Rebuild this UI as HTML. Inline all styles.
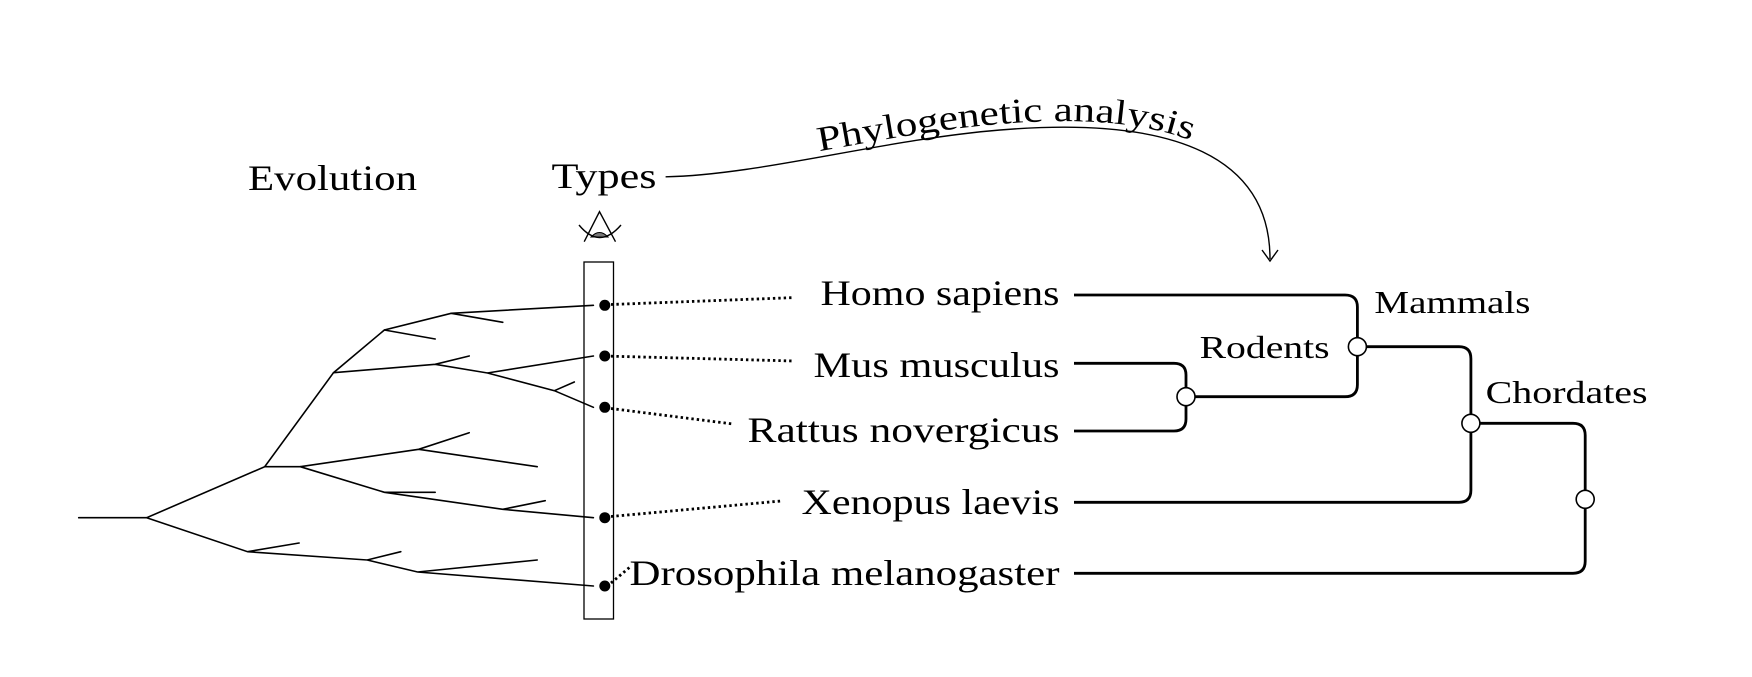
<!DOCTYPE html>
<html><head><meta charset="utf-8"><style>
html,body{margin:0;padding:0;background:#fff;}
svg{display:block;}
text{font-family:"Liberation Serif",serif;fill:#000;}
</style></head><body>
<svg width="1752" height="677" viewBox="0 0 1752 677" xmlns="http://www.w3.org/2000/svg">
<g stroke="#000" stroke-width="1.6" fill="none" stroke-linecap="round">
<path d="M78.7,517.7 L146.7,517.7 L264.7,466.7 L333.5,372.7 L384.4,330 L451.2,313.3 L593.4,305.3"/>
<path d="M451.2,313.3 L502.8,322.3 M384.4,330 L435.2,339"/>
<path d="M333.5,372.7 L435.2,364.3 L487.5,373 L593.4,356 M435.2,364.3 L469.2,356 M487.5,373 L554.4,390.7 L593.4,407.3 M554.4,390.7 L574.3,382"/>
<path d="M264.7,466.7 L300.3,466.7 L418.7,449.3 L469.2,432.7 M418.7,449.3 L537.2,466.7"/>
<path d="M300.3,466.7 L384.4,492.3 L435.2,492.3 M384.4,492.3 L502.8,509.3 L593.4,517.7 M502.8,509.3 L545.2,500.7"/>
<path d="M146.7,517.7 L247.6,551.7 L299.1,543 M247.6,551.7 L367.2,560 L400.8,551.7 M367.2,560 L417.6,572 L537.2,560 M417.6,572 L593.4,586"/>
</g>
<rect x="584" y="262" width="29.5" height="357" fill="none" stroke="#000" stroke-width="1.3"/>
<g fill="#000">
<circle cx="604.8" cy="305.3" r="5.5"/><circle cx="604.8" cy="356" r="5.5"/><circle cx="604.8" cy="407.3" r="5.5"/><circle cx="604.8" cy="517.7" r="5.5"/><circle cx="604.8" cy="586" r="5.5"/>
</g>
<g stroke="#000" stroke-width="2.8" stroke-dasharray="2.4 3" fill="none">
<path d="M611,304.5 L794,297.6"/><path d="M611,356.2 L794,361"/><path d="M611,408.5 L733,424"/><path d="M611,516.5 L781,501"/><path d="M611,583 L630,567"/>
</g>
<!-- eye -->
<path d="M591,237 Q599.5,228 608,237 Z" fill="#777" stroke="#000" stroke-width="1"/>
<path d="M584.2,241.7 L599.5,211.7 L615.5,241.7 M579,225 Q599.5,250 621,225" fill="none" stroke="#000" stroke-width="1.4"/>
<!-- labels -->
<text x="248" y="190" font-size="36" textLength="169" lengthAdjust="spacingAndGlyphs">Evolution</text>
<text x="551.5" y="188" font-size="36" textLength="105" lengthAdjust="spacingAndGlyphs">Types</text>
<path d="M665.6,176.8 C760,175 880,140 1000,130 C1180,115 1270,160 1270,259" fill="none" stroke="#000" stroke-width="1.4"/>
<path d="M1262,250 L1270,261 L1278,250" fill="none" stroke="#000" stroke-width="1.4"/>
<path id="tp" d="M665.6,170.8 C760,169 880,134 1000,124 C1180,109 1270,154 1270,253" fill="none"/>
<text font-size="35"><textPath href="#tp" startOffset="155" textLength="376" lengthAdjust="spacingAndGlyphs">Phylogenetic analysis</textPath></text>
<g font-size="36" text-anchor="end">
<text x="1059.5" y="305" textLength="239" lengthAdjust="spacingAndGlyphs">Homo sapiens</text>
<text x="1059.5" y="377" textLength="246" lengthAdjust="spacingAndGlyphs">Mus musculus</text>
<text x="1059.5" y="442" textLength="312" lengthAdjust="spacingAndGlyphs">Rattus novergicus</text>
<text x="1059.5" y="514" textLength="258" lengthAdjust="spacingAndGlyphs">Xenopus laevis</text>
<text x="1059.5" y="585" textLength="430" lengthAdjust="spacingAndGlyphs">Drosophila melanogaster</text>
</g>
<g font-size="32">
<text x="1374.4" y="313" textLength="156" lengthAdjust="spacingAndGlyphs">Mammals</text>
<text x="1199.6" y="358" textLength="130" lengthAdjust="spacingAndGlyphs">Rodents</text>
<text x="1485.6" y="403" textLength="162" lengthAdjust="spacingAndGlyphs">Chordates</text>
</g>
<!-- right tree -->
<g stroke="#000" stroke-width="2.8" fill="none">
<path d="M1074,295 L1345,295 Q1357.4,295 1357.4,307 L1357.4,384.7 Q1357.4,396.7 1345,396.7 L1186,396.7"/>
<path d="M1074,363.3 L1174,363.3 Q1186,363.3 1186,375 L1186,419 Q1186,431 1174,431 L1074,431"/>
<path d="M1357.4,346.7 L1459,346.7 Q1470.9,346.7 1470.9,358.7 L1470.9,490.3 Q1470.9,502.3 1459,502.3 L1074,502.3"/>
<path d="M1470.9,423.3 L1573,423.3 Q1585.2,423.3 1585.2,435.3 L1585.2,561.3 Q1585.2,573.3 1573,573.3 L1074,573.3"/>
</g>
<g fill="#fff" stroke="#000" stroke-width="1.6">
<circle cx="1186" cy="396.7" r="9"/><circle cx="1357.4" cy="346.7" r="9"/><circle cx="1470.9" cy="423.3" r="9"/><circle cx="1585.2" cy="499.3" r="9"/>
</g>
</svg>
</body></html>
